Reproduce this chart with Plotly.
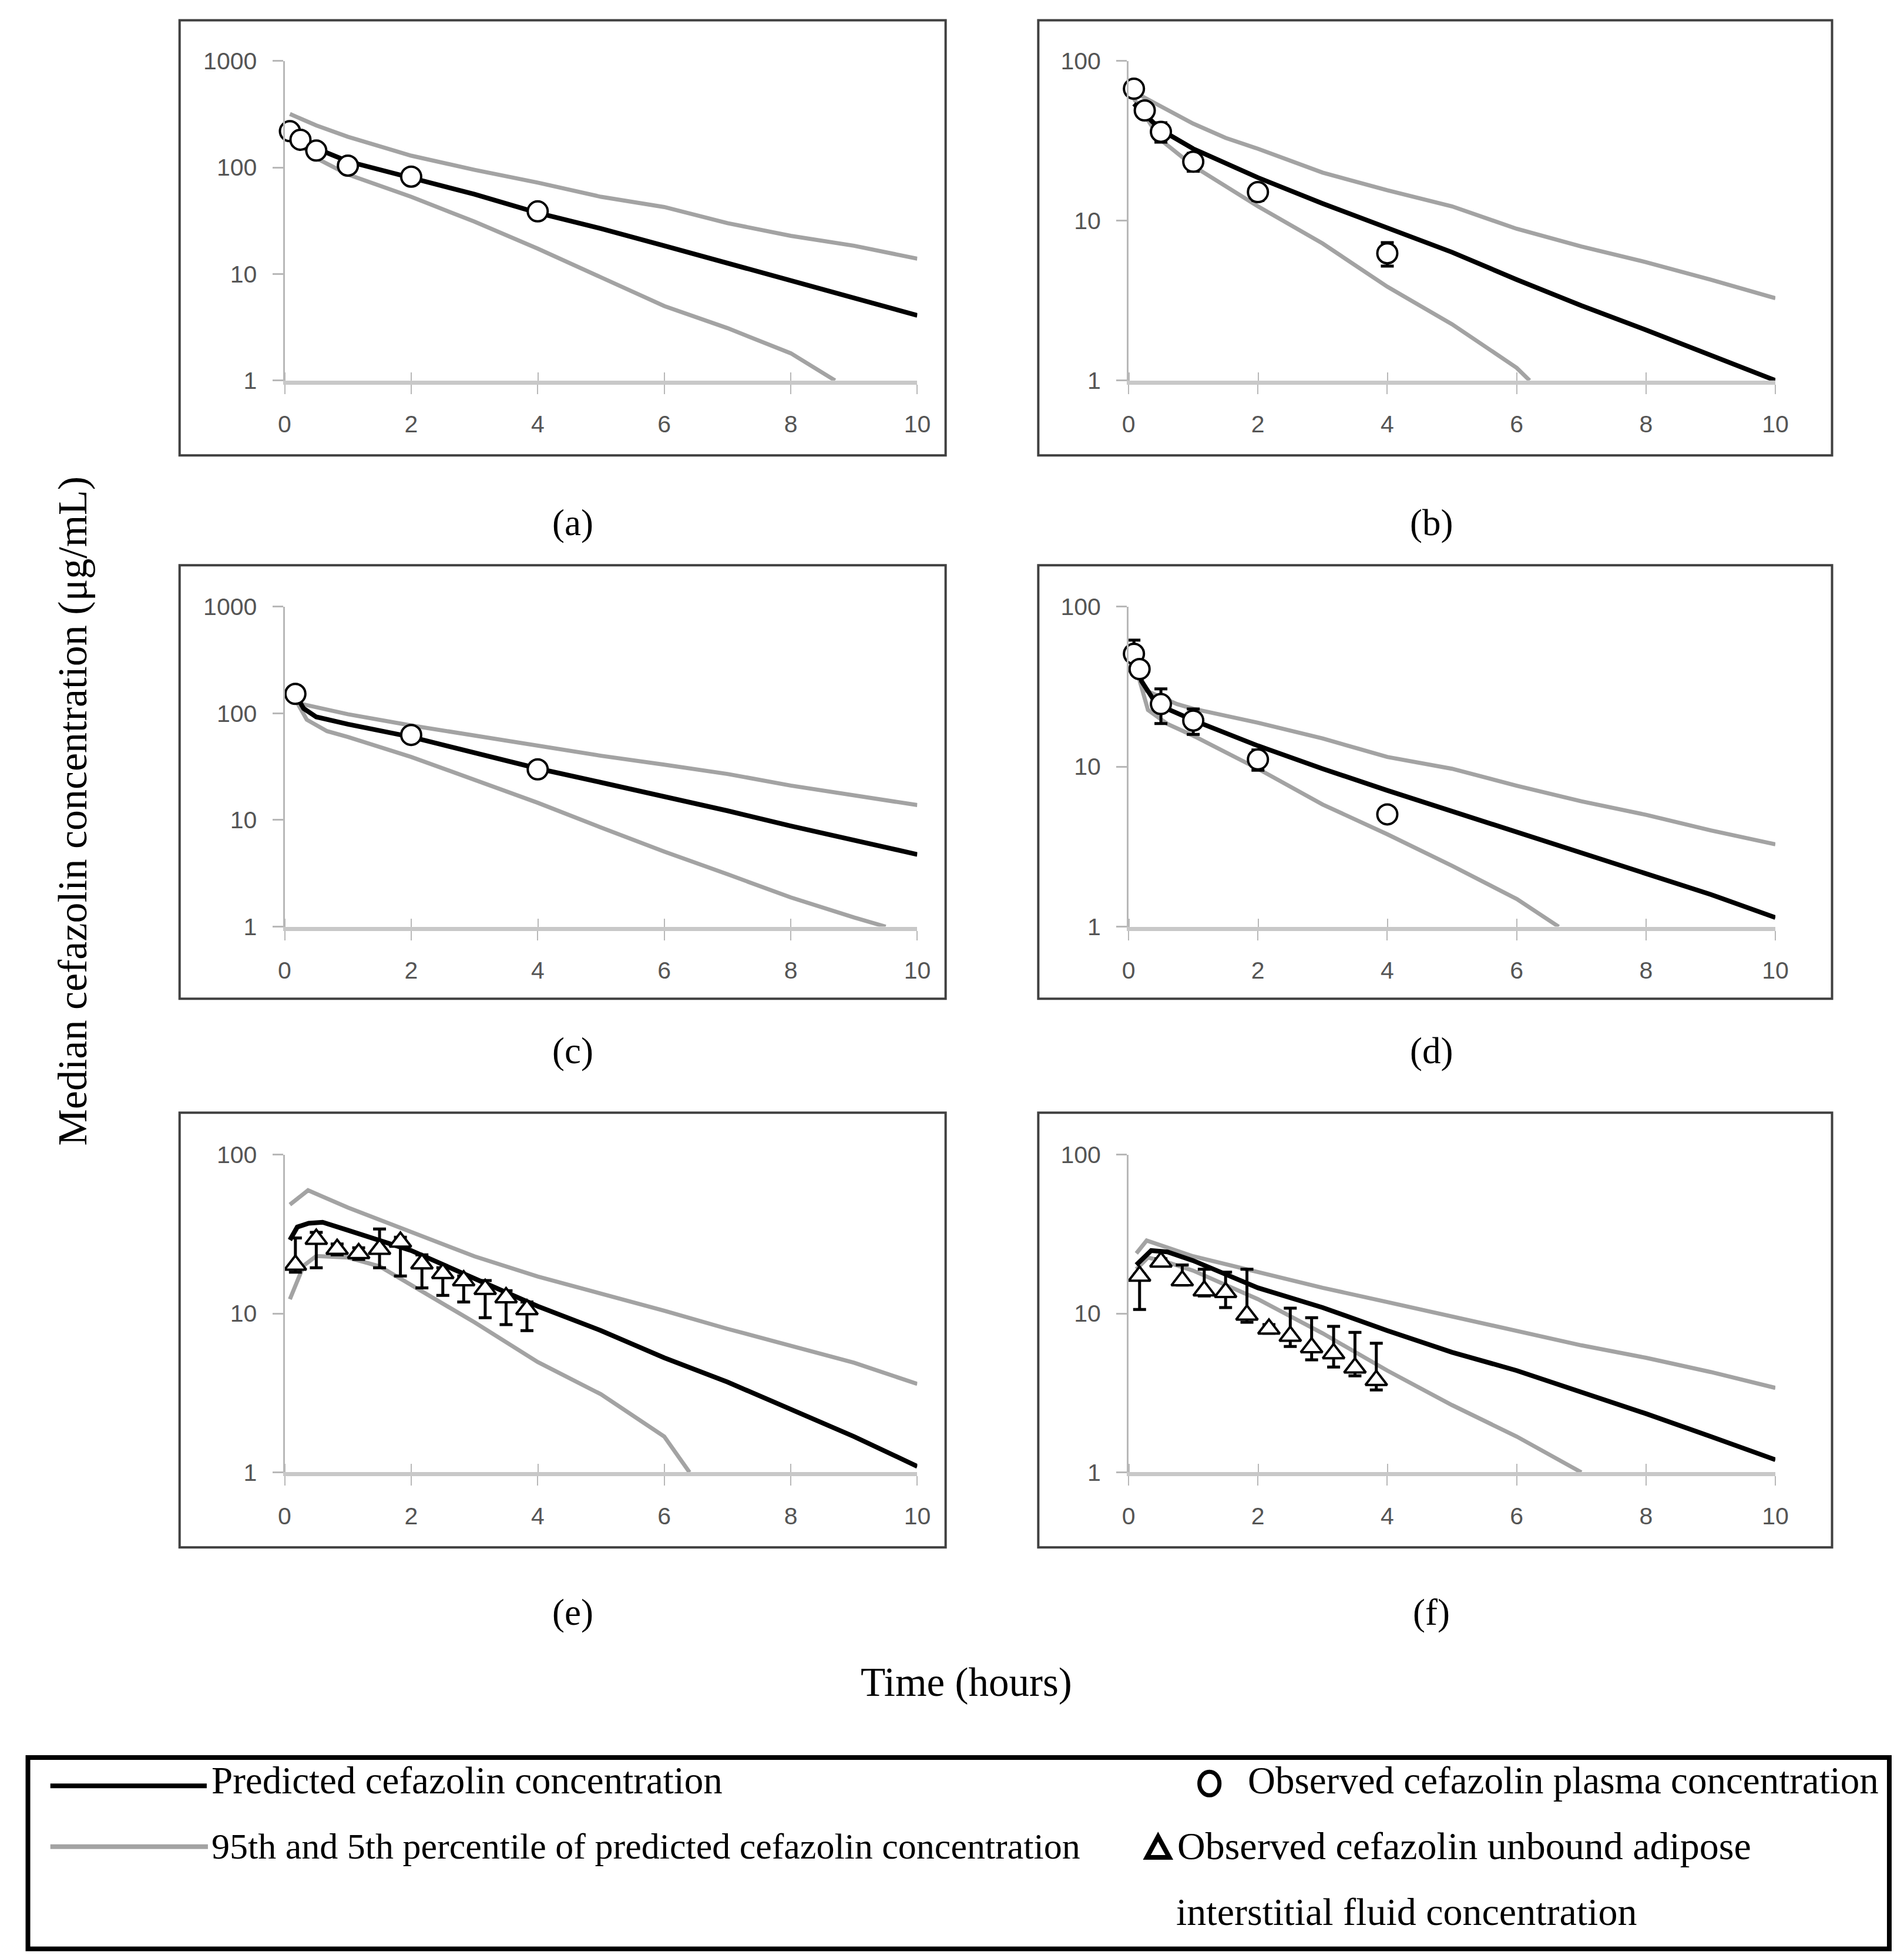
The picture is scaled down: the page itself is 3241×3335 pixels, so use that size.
import plotly.graph_objects as go

W, H = 3241, 3335

# ---------------- data ----------------
X_TICKS = [0, 2, 4, 6, 8, 10]
Y_TICKS_1000 = [1, 10, 100, 1000]
Y_TICKS_100 = [1, 10, 100]
PANEL_LABELS = ["(a)", "(b)", "(c)", "(d)", "(e)", "(f)"]

# (a)
A_T = [0.083, 0.5, 1, 2, 3, 4, 5, 6, 7, 8, 9, 10]
A_MED = [215, 151, 114, 79, 56, 37.5, 26.7, 18.4, 12.7, 8.75, 6.0, 4.08]
A_P95 = [318, 248, 194, 129, 95, 72, 53, 42.5, 30, 22.8, 18.4, 13.9]
A_T_P5 = [0.083, 0.5, 1, 2, 3, 4, 5, 6, 7, 8, 8.7]
A_P5 = [200, 122, 86, 53, 31, 17.3, 9.3, 5.0, 3.1, 1.8, 1.0]
A_T_OBS = [0.083, 0.25, 0.5, 1, 2, 4]
A_OBS = [219, 182, 144, 104, 82, 38.7]

# (b)
B_T = [0.083, 0.5, 1, 1.5, 2, 3, 4, 5, 6, 7, 8, 9, 10]
B_MED = [54, 37, 28.2, 23, 18.6, 12.8, 9.0, 6.35, 4.28, 2.94, 2.07, 1.45, 1.0]
B_P95 = [64, 52, 40.5, 33, 28.2, 20, 15.5, 12.3, 8.9, 6.9, 5.5, 4.27, 3.27]
B_T_P5 = [0.083, 0.5, 1, 2, 3, 4, 5, 6, 6.2]
B_P5 = [58, 32, 22, 12.3, 7.2, 3.86, 2.25, 1.2, 1.0]
B_T_OBS = [0.083, 0.25, 0.5, 1, 2, 4]
B_OBS = [67, 49, 36, 23.4, 15.1, 6.25]
B_SD = [3, 3, 5, 3, 1.7, 1.05]

# (c)
C_T = [0.17, 0.3, 0.5, 1, 2, 3, 4, 5, 6, 7, 8, 9, 10]
C_MED = [150, 111, 92.5, 79, 60, 42.7, 30.4, 22.5, 16.6, 12.2, 8.8, 6.45, 4.75]
C_T_P95 = [0.17, 1, 2, 3, 4, 5, 6, 7, 8, 9, 10]
C_P95 = [126, 98, 77, 62, 50, 40, 33, 27, 21, 16.9, 13.8]
C_T_P5 = [0.17, 0.35, 0.67, 1, 2, 3, 4, 5, 6, 7, 8, 9, 9.5]
C_P5 = [135, 87, 68, 60, 39, 23.7, 14.5, 8.5, 5.05, 3.1, 1.88, 1.22, 1.0]
C_T_OBS = [0.17, 2, 4]
C_OBS = [152, 62.7, 29.8]

# (d)
D_T = [0.083, 0.2, 0.43, 0.75, 1, 2, 3, 4, 5, 6, 7, 8, 9, 10]
D_MED = [50, 34.2, 24.6, 21.4, 19.5, 13.5, 9.7, 7.1, 5.25, 3.93, 2.88, 2.16, 1.59, 1.14]
D_T_P95 = [0.083, 0.26, 0.75, 1, 2, 3, 4, 5, 6, 7, 8, 9, 10]
D_P95 = [48, 30, 24.6, 23, 18.8, 15, 11.5, 9.7, 7.6, 6.07, 5.0, 4.0, 3.27]
D_T_P5 = [0.083, 0.14, 0.3, 0.6, 1, 2, 3, 4, 5, 6, 6.65]
D_P5 = [46, 38, 22.6, 18.5, 15.6, 9.7, 5.8, 3.78, 2.4, 1.49, 1.0]
D_T_OBS = [0.083, 0.17, 0.5, 1, 2, 4]
D_OBS = [50.7, 40.7, 24.6, 19.4, 11.1, 5.03]
D_SD = [11, 3, 6, 3.5, 1.6, 0.4]

# (e)
E_T = [0.083, 0.2, 0.38, 0.6, 1, 2, 3, 4, 5, 6, 7, 8, 9, 10]
E_MED = [29, 35, 37, 37.5, 33.4, 24.9, 16.6, 11.1, 7.8, 5.26, 3.7, 2.49, 1.68, 1.09]
E_T_P95 = [0.083, 0.37, 1, 2, 3, 4, 5, 6, 7, 8, 9, 10]
E_P95 = [48.4, 59.6, 46.4, 32.7, 22.9, 17.1, 13.4, 10.4, 8.0, 6.3, 4.9, 3.6]
E_T_P5 = [0.083, 0.3, 0.5, 1, 1.5, 2, 3, 4, 5, 6, 6.4]
E_P5 = [12.3, 20, 23, 22.5, 19.8, 15.1, 8.8, 4.95, 3.1, 1.68, 1.0]
ADIP_T = [0.17, 0.5, 0.83, 1.17, 1.5, 1.83, 2.17, 2.5, 2.83, 3.17, 3.5, 3.83]
E_OBS = [20.2, 29.4, 25.4, 23.9, 25.4, 28.2, 20.6, 17.9, 16.1, 14.2, 12.6, 10.6]
E_ERR_UP = [9.7, 3, 2, 2, 8.6, 2, 2.8, 1.5, 1.1, 1.9, 1.3, 1.2]
E_ERR_DN = [2, 10, 2, 2, 6, 11, 6.1, 4.9, 4.3, 4.8, 4.1, 2.8]

# (f)
F_T = [0.12, 0.35, 0.6, 1, 2, 3, 4, 5, 6, 7, 8, 9, 10]
F_MED = [20.2, 24.9, 24.4, 21.5, 14.5, 10.9, 7.8, 5.7, 4.37, 3.2, 2.34, 1.68, 1.2]
F_T_P95 = [0.12, 0.28, 1, 2, 3, 4, 5, 6, 7, 8, 9, 10]
F_P95 = [23.9, 28.8, 22.9, 18.2, 14.5, 11.8, 9.6, 7.8, 6.3, 5.26, 4.28, 3.4]
F_T_P5 = [0.12, 0.3, 0.6, 1, 2, 3, 4, 5, 6, 7]
F_P5 = [19, 22.5, 21, 18.6, 12.3, 7.5, 4.37, 2.65, 1.68, 1.0]
F_OBS = [17.2, 21.1, 16.1, 13.9, 13.6, 9.8, 8.0, 7.2, 6.1, 5.6, 4.55, 3.8]
F_ERR_UP = [0.5, 1, 4.1, 5.1, 4.6, 9.2, 0.5, 3.6, 3.3, 2.7, 3.05, 2.7]
F_ERR_DN = [6.6, 1, 1, 1, 2.7, 1, 0.5, 1, 1, 1, 0.5, 0.5]

# ---------------- styling / layout constants ----------------
BLACK = "#000000"
GREY = "#a3a3a3"
AXIS_GREY = "#b8b8b8"
XLINE_GREY = "#c8c8c8"
SERIF = "Liberation Serif, Times New Roman, serif"

# page-position correction (target pixel -> layout pixel)
OX, SX = 18.6, 0.985
OY, SY = 30.6, 0.981
FS = 1 / 0.983

TICK_FONT = dict(family="Liberation Sans, Arial, sans-serif", size=round(40 * FS), color="#555555")

COL_X = [(482, 1554), (1912, 3008)]
ROW_Y = [(103, 644), (1027, 1569), (1955, 2493)]
BOX_X = [(304, 1602), (1759, 3104)]
BOX_Y = [(34, 771), (957, 1691), (1884, 2620)]
LABEL_X = [970, 2425]
LABEL_Y = [885, 1779, 2730]


def fx(p):
    return ((p - OX) / SX) / W


def fy(p):
    return 1 - ((p - OY) / SY) / H


panels = [
    dict(t=A_T, med=A_MED, t95=A_T, p95=A_P95, t5=A_T_P5, p5=A_P5,
         tobs=A_T_OBS, obs=A_OBS, up=None, dn=None, sym="circle", ymax=3),
    dict(t=B_T, med=B_MED, t95=B_T, p95=B_P95, t5=B_T_P5, p5=B_P5,
         tobs=B_T_OBS, obs=B_OBS, up=B_SD, dn=B_SD, sym="circle", ymax=2),
    dict(t=C_T, med=C_MED, t95=C_T_P95, p95=C_P95, t5=C_T_P5, p5=C_P5,
         tobs=C_T_OBS, obs=C_OBS, up=None, dn=None, sym="circle", ymax=3),
    dict(t=D_T, med=D_MED, t95=D_T_P95, p95=D_P95, t5=D_T_P5, p5=D_P5,
         tobs=D_T_OBS, obs=D_OBS, up=D_SD, dn=D_SD, sym="circle", ymax=2),
    dict(t=E_T, med=E_MED, t95=E_T_P95, p95=E_P95, t5=E_T_P5, p5=E_P5,
         tobs=ADIP_T, obs=E_OBS, up=E_ERR_UP, dn=E_ERR_DN, sym="triangle-up", ymax=2),
    dict(t=F_T, med=F_MED, t95=F_T_P95, p95=F_P95, t5=F_T_P5, p5=F_P5,
         tobs=ADIP_T, obs=F_OBS, up=F_ERR_UP, dn=F_ERR_DN, sym="triangle-up", ymax=2),
]

fig = go.Figure()
layout = dict(
    width=W, height=H, margin=dict(l=0, r=0, t=0, b=0),
    paper_bgcolor="white", plot_bgcolor="rgba(0,0,0,0)",
    showlegend=False,
)
shapes = []
annotations = []

for i, p in enumerate(panels):
    n = i + 1
    row, col = divmod(i, 2)
    xa = "x" if n == 1 else f"x{n}"
    ya = "y" if n == 1 else f"y{n}"
    xk = "xaxis" if n == 1 else f"xaxis{n}"
    yk = "yaxis" if n == 1 else f"yaxis{n}"
    x0, x1 = COL_X[col]
    y0, y1 = ROW_Y[row]
    yt = Y_TICKS_1000 if p["ymax"] == 3 else Y_TICKS_100

    layout[xk] = dict(
        domain=[fx(x0), fx(x1)], anchor=ya, range=[0, 10],
        tickmode="array", tickvals=X_TICKS, ticktext=[str(v) for v in X_TICKS],
        showline=True, linecolor=XLINE_GREY, linewidth=7,
        ticks="outside", ticklen=16, tickwidth=2, tickcolor=AXIS_GREY,
        minor=dict(tickmode="array", tickvals=[v + 0.004 for v in X_TICKS],
                   ticks="inside", ticklen=14, tickwidth=2, tickcolor=AXIS_GREY),
        showgrid=False, zeroline=False, tickfont=TICK_FONT, ticklabelstandoff=16,
        fixedrange=True,
    )
    layout[yk] = dict(
        domain=[fy(y1), fy(y0)], anchor=xa, type="log", range=[0, p["ymax"]],
        tickmode="array", tickvals=yt, ticktext=[str(v) for v in yt],
        showline=True, linecolor=AXIS_GREY, linewidth=3,
        ticks="outside", ticklen=18, tickwidth=3, tickcolor=AXIS_GREY,
        showgrid=False, zeroline=False, tickfont=TICK_FONT, ticklabelstandoff=18,
        fixedrange=True,
    )

    fig.add_trace(go.Scatter(x=p["t95"], y=p["p95"], mode="lines", xaxis=xa, yaxis=ya,
                             line=dict(color=GREY, width=7), hoverinfo="skip"))
    fig.add_trace(go.Scatter(x=p["t5"], y=p["p5"], mode="lines", xaxis=xa, yaxis=ya,
                             line=dict(color=GREY, width=7), hoverinfo="skip"))
    fig.add_trace(go.Scatter(x=p["t"], y=p["med"], mode="lines", xaxis=xa, yaxis=ya,
                             line=dict(color=BLACK, width=8), hoverinfo="skip"))
    err = None
    if p["up"] is not None:
        err = dict(type="data", symmetric=False, array=p["up"], arrayminus=p["dn"],
                   color=BLACK, thickness=5, width=11)
    if p["sym"] == "circle":
        mk = dict(symbol="circle", size=34, color="white", line=dict(color=BLACK, width=4))
    else:
        mk = dict(symbol="triangle-up", size=32, color="white", line=dict(color=BLACK, width=4))
    fig.add_trace(go.Scatter(x=p["tobs"], y=p["obs"], mode="markers", xaxis=xa, yaxis=ya,
                             marker=mk, error_y=err, cliponaxis=False, hoverinfo="skip"))

    bx0, bx1 = BOX_X[col]
    by0, by1 = BOX_Y[row]
    shapes.append(dict(type="rect", xref="paper", yref="paper",
                       x0=fx(bx0), x1=fx(bx1), y0=fy(by1), y1=fy(by0),
                       line=dict(color="#404040", width=4), layer="below"))
    annotations.append(dict(text=PANEL_LABELS[i], xref="paper", yref="paper",
                            x=fx(LABEL_X[col]), y=fy(LABEL_Y[row]),
                            xanchor="center", yanchor="middle", showarrow=False,
                            font=dict(family=SERIF, size=round(62 * FS), color="black")))

# axis titles
annotations.append(dict(text="Time (hours)", xref="paper", yref="paper",
                        x=fx(1637), y=fy(2849), xanchor="center", yanchor="middle",
                        showarrow=False,
                        font=dict(family=SERIF, size=round(68 * FS), color="black")))
annotations.append(dict(text="Median cefazolin concentration (\u03bcg/mL)", xref="paper", yref="paper",
                        x=fx(123), y=fy(1373), xanchor="center", yanchor="middle",
                        textangle=-90, showarrow=False,
                        font=dict(family=SERIF, size=round(69 * FS), color="black")))

# legend box
shapes.append(dict(type="rect", xref="paper", yref="paper",
                   x0=fx(47), x1=fx(3201), y0=fy(3300), y1=fy(2976),
                   line=dict(color="black", width=8)))
shapes.append(dict(type="line", xref="paper", yref="paper",
                   x0=fx(85), x1=fx(350), y0=fy(3024), y1=fy(3024),
                   line=dict(color=BLACK, width=8)))
shapes.append(dict(type="line", xref="paper", yref="paper",
                   x0=fx(85), x1=fx(352), y0=fy(3127), y1=fy(3127),
                   line=dict(color=GREY, width=8)))
shapes.append(dict(type="circle", xref="paper", yref="paper",
                   x0=fx(2032), x1=fx(2066), y0=fy(3040), y1=fy(3000),
                   line=dict(color="black", width=7), fillcolor="white"))
tri = (f"M {fx(1962)} {fy(3110)} L {fx(1981)} {fy(3145)} L {fx(1943)} {fy(3145)} Z")
shapes.append(dict(type="path", xref="paper", yref="paper", path=tri,
                   line=dict(color="black", width=8), fillcolor="white"))

for txt, lx, ly, fsz in [
    ("Predicted cefazolin concentration", 356, 3015, 64),
    ("Observed cefazolin plasma concentration", 2112, 3015, 64),
    ("95th and 5th percentile of predicted cefazolin concentration", 356, 3126, 61),
    ("Observed cefazolin unbound adipose", 1993, 3126, 65),
    ("interstitial fluid concentration", 1991, 3237, 65),
]:
    annotations.append(dict(text=txt, xref="paper", yref="paper", x=fx(lx), y=fy(ly),
                            xanchor="left", yanchor="middle", showarrow=False,
                            font=dict(family=SERIF, size=round(fsz * FS), color="black")))

layout["shapes"] = shapes
layout["annotations"] = annotations
fig.update_layout(**layout)
fig.write_html("out.html")
